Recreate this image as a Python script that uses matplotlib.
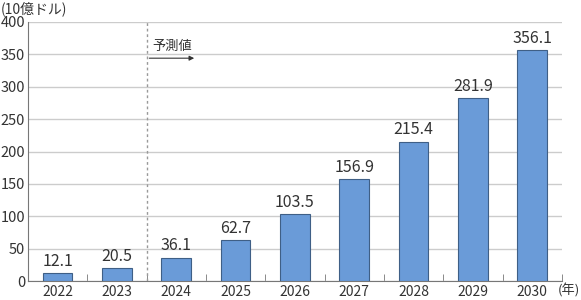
import matplotlib.pyplot as plt
import numpy as np

plt.rcParams['font.family'] = ['Noto Sans CJK JP', 'DejaVu Sans']

years = ['2022', '2023', '2024', '2025', '2026', '2027', '2028', '2029', '2030']
values = [12.1, 20.5, 36.1, 62.7, 103.5, 156.9, 215.4, 281.9, 356.1]
labels = ['12.1', '20.5', '36.1', '62.7', '103.5', '156.9', '215.4', '281.9', '356.1']

fig = plt.figure(figsize=(5.81, 3.0), dpi=100)
ax = fig.add_axes([0.048, 0.063, 0.919, 0.864])

x = np.arange(len(years))
ax.bar(x, values, width=0.5, color='#6a9bd8', edgecolor='#3f5f86', linewidth=0.8, zorder=3)
for xi, v, lab in zip(x, values, labels):
    ax.text(xi, v + 5, lab, ha='center', va='bottom', fontsize=11.5, color='#333333')

ax.set_xlim(-0.5, 8.5)
ax.set_ylim(0, 400)
ax.set_yticks(range(0, 401, 50))
ax.yaxis.grid(True, color='#cccccc', linewidth=1, zorder=0)
ax.tick_params(axis='y', length=0, labelsize=10.5, colors='#333333', pad=2)

ax.set_xticks(x)
ax.set_xticklabels(years)
ax.tick_params(axis='x', length=0, labelsize=10, colors='#333333', pad=2.5)
ax.set_xticks(np.arange(0.5, 8.6, 1), minor=True)
ax.tick_params(axis='x', which='minor', direction='in', length=5, color='#777777')

for s in ['top', 'right']:
    ax.spines[s].set_visible(False)
ax.spines['left'].set_color('#777777')
ax.spines['bottom'].set_color('#777777')

ax.axvline(1.5, color='#999999', linestyle=(0, (2, 2)), linewidth=1, zorder=2)
ax.annotate('', xy=(2.35, 344), xytext=(1.5, 344),
            arrowprops=dict(arrowstyle='-|>', color='#333333', lw=0.8, mutation_scale=7))
ax.text(1.6, 352, '予測値', fontsize=9.5, color='#333333', va='bottom')

fig.text(0.002, 0.995, '(10億ドル)', fontsize=10, color='#333333', va='top')
fig.text(0.999, 0.032, '(年)', fontsize=9.5, color='#333333', va='center', ha='right')

fig.savefig('out.png', dpi=100)
